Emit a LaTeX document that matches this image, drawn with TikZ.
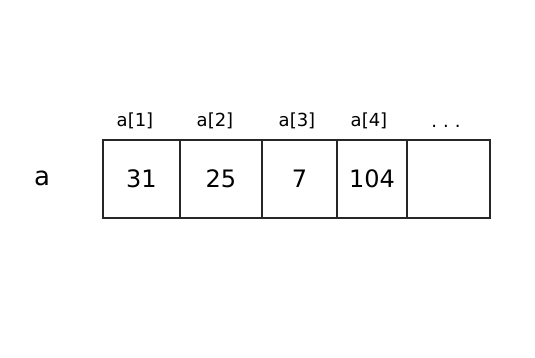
\documentclass[tikz,border=0pt]{standalone}
\usepackage{fontspec}
\setmainfont{DejaVu Sans}
\begin{document}
\begin{tikzpicture}[x=1pt,y=-1pt,
  cell/.style={draw=black!85,line width=1.1pt,minimum height=78pt,inner sep=0pt,font=\fontsize{24}{26}\selectfont},
  idx/.style={font=\fontsize{18}{20}\selectfont,inner sep=0pt}]
\useasboundingbox (0,0) rectangle (535,358);
\fill[white] (0,0) rectangle (535,358);
\node[cell,minimum width=77pt] (c1) at (141.5,179) {31};
\node[cell,minimum width=82pt] (c2) at (221,179) {25};
\node[cell,minimum width=75pt] (c3) at (299.5,179) {7};
\node[cell,minimum width=70pt] (c4) at (372,179) {104};
\node[cell,minimum width=83pt] (c5) at (448.5,179) {};
\node[idx] (l1) at (135,121) {a[1]};
\node[idx] (l2) at (215,121) {a[2]};
\node[idx] (l3) at (297,121) {a[3]};
\node[idx] (l4) at (369,121) {a[4]};
\node[idx] (l5) at (446,126) {.\,\,.\,\,.};
\node[font=\fontsize{26}{28}\selectfont,inner sep=0pt] (a) at (42,178) {a};
\end{tikzpicture}
\end{document}
